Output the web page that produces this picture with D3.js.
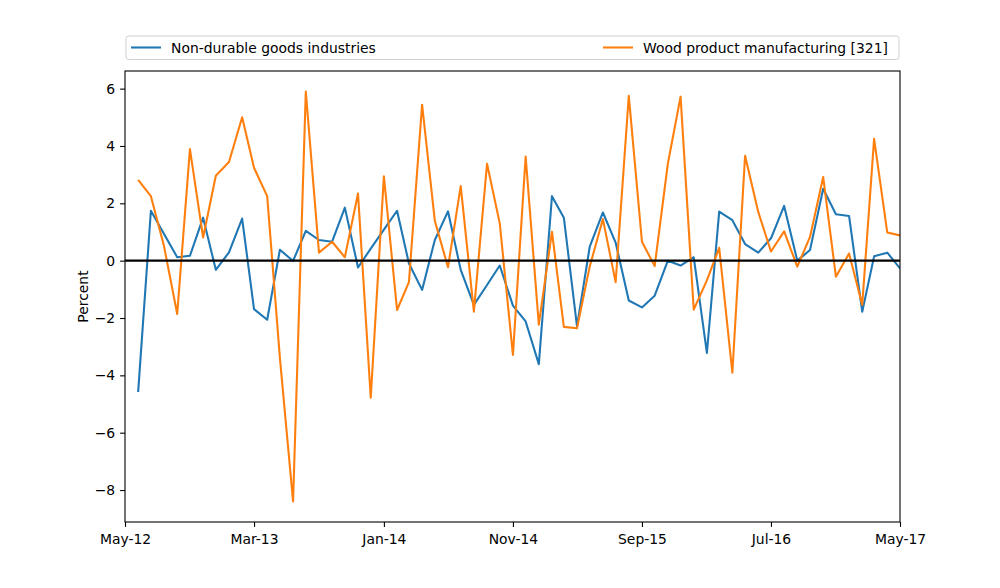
<!DOCTYPE html>
<html>
<head>
<meta charset="utf-8">
<title>Non-durable goods vs wood product manufacturing</title>
<script src="https://d3js.org/d3.v7.min.js"></script>
<style>
  body { margin: 0; background: #fff; }
  text { font-family: "DejaVu Sans", sans-serif; }
</style>
</head>
<body>
<div id="chart"></div>
<script>
// monthly percent change, Jun-12 .. May-17
var firstMonth = "Jun-12", lastMonth = "May-17";
var tickLabels = ["May-12", "Mar-13", "Jan-14", "Nov-14", "Sep-15", "Jul-16", "May-17"];
var seriesNames = ["Non-durable goods industries", "Wood product manufacturing [321]"];
var seriesColors = ["#1f77b4", "#ff7f0e"];

var nonDurable = [-4.58, 1.74, 0.93, 0.12, 0.17, 1.50, -0.32, 0.29, 1.47, -1.69,
  -2.06, 0.38, -0.01, 1.04, 0.72, 0.66, 1.85, -0.24, 0.42, 1.08,
  1.74, -0.10, -1.02, 0.72, 1.72, -0.32, -1.54, -0.85, -0.17, -1.57,
  -2.12, -3.61, 2.25, 1.50, -2.29, 0.49, 1.68, 0.63, -1.39, -1.63,
  -1.22, 0.00, -0.17, 0.12, -3.22, 1.71, 1.41, 0.58, 0.28, 0.78,
  1.91, 0.00, 0.37, 2.51, 1.62, 1.56, -1.78, 0.15, 0.28, -0.27];

var wood = [2.82, 2.25, 0.50, -1.86, 3.89, 0.81, 2.96, 3.44, 5.00, 3.24,
  2.25, -3.40, -8.40, 5.90, 0.28, 0.66, 0.12, 2.34, -4.78, 2.94,
  -1.72, -0.75, 5.44, 1.39, -0.23, 2.60, -1.78, 3.38, 1.30, -3.29,
  3.63, -2.23, 1.01, -2.31, -2.36, -0.20, 1.45, -0.75, 5.75, 0.66,
  -0.19, 3.38, 5.72, -1.71, -0.69, 0.45, -3.91, 3.66, 1.70, 0.32,
  1.02, -0.21, 0.83, 2.92, -0.56, 0.25, -1.54, 4.25, 0.98, 0.88];

var parseMonth = d3.timeParse("%b-%y"),
    fmtMonth = d3.timeFormat("%b-%y");

var months = d3.timeMonth.range(parseMonth(firstMonth),
                                d3.timeMonth.offset(parseMonth(lastMonth), 1));
var tickDates = tickLabels.map(parseMonth);

var W = 1000, H = 588,
    margin = {top: 71, right: 100, bottom: 66, left: 125},
    width = W - margin.left - margin.right,
    height = H - margin.top - margin.bottom;

var fontSize = 13.9;

var svg = d3.select("#chart").append("svg")
  .attr("width", W).attr("height", H);

var g = svg.append("g")
  .attr("transform", "translate(" + margin.left + "," + margin.top + ")");

var x = d3.scaleTime()
  .domain([tickDates[0], tickDates[tickDates.length - 1]])
  .range([0, width]);

// matplotlib style 5% padding around the data
var all = nonDurable.concat(wood),
    lo = d3.min(all), hi = d3.max(all), pad = (hi - lo) * 0.05;
var y = d3.scaleLinear().domain([lo - pad, hi + pad]).range([height, 0]);

var line = d3.line()
  .x(function(d, i) { return x(months[i]); })
  .y(function(d) { return y(d); });

g.append("defs").append("clipPath").attr("id", "clip")
  .append("rect").attr("width", width).attr("height", height);

var plot = g.append("g").attr("clip-path", "url(#clip)");

[nonDurable, wood].forEach(function(s, k) {
  plot.append("path")
    .datum(s)
    .attr("d", line)
    .attr("fill", "none")
    .attr("stroke", seriesColors[k])
    .attr("stroke-width", 2.08)
    .attr("stroke-linejoin", "round");
});

// zero line
plot.append("line")
  .attr("x1", 0).attr("x2", width)
  .attr("y1", y(0)).attr("y2", y(0))
  .attr("stroke", "#000").attr("stroke-width", 2.2);

// axes
var xAxis = g.append("g")
  .attr("transform", "translate(0," + height + ")")
  .call(d3.axisBottom(x).tickValues(tickDates).tickFormat(fmtMonth)
        .tickSizeInner(4.9).tickSizeOuter(0).tickPadding(7.5));

var yAxis = g.append("g")
  .call(d3.axisLeft(y).tickValues([-8, -6, -4, -2, 0, 2, 4, 6])
        .tickFormat(function(d) { return d < 0 ? "\u2212" + Math.abs(d) : d; })
        .tickSizeInner(4.9).tickSizeOuter(0).tickPadding(4.9));

[xAxis, yAxis].forEach(function(a) {
  a.select(".domain").remove();
  a.selectAll("text").attr("font-size", fontSize).attr("fill", "#000")
    .attr("font-family", "DejaVu Sans, sans-serif");
  a.selectAll("line").attr("stroke", "#000").attr("stroke-width", 1.1);
});

// frame
g.append("rect")
  .attr("width", width).attr("height", height)
  .attr("fill", "none").attr("stroke", "#000").attr("stroke-width", 1.1);

// y label
g.append("text")
  .attr("transform", "translate(-37," + (height / 2) + ") rotate(-90)")
  .attr("text-anchor", "middle")
  .attr("font-size", fontSize)
  .text("Percent");

// legend (expanded across the top, two columns)
var leg = svg.append("g").attr("transform", "translate(" + (margin.left + 1) + ",36)");
leg.append("rect")
  .attr("width", width - 2).attr("height", 23.5)
  .attr("rx", 2.5)
  .attr("fill", "#fff").attr("stroke", "#d0d0d0");

var legX = [5, 477];
seriesNames.forEach(function(name, k) {
  var e = leg.append("g").attr("transform", "translate(" + legX[k] + ",0)");
  e.append("line")
    .attr("x1", 0).attr("x2", 30).attr("y1", 11.5).attr("y2", 11.5)
    .attr("stroke", seriesColors[k]).attr("stroke-width", 2.08);
  e.append("text")
    .attr("x", 40).attr("y", 16.5)
    .attr("font-size", fontSize)
    .text(name);
});
</script>
</body>
</html>
